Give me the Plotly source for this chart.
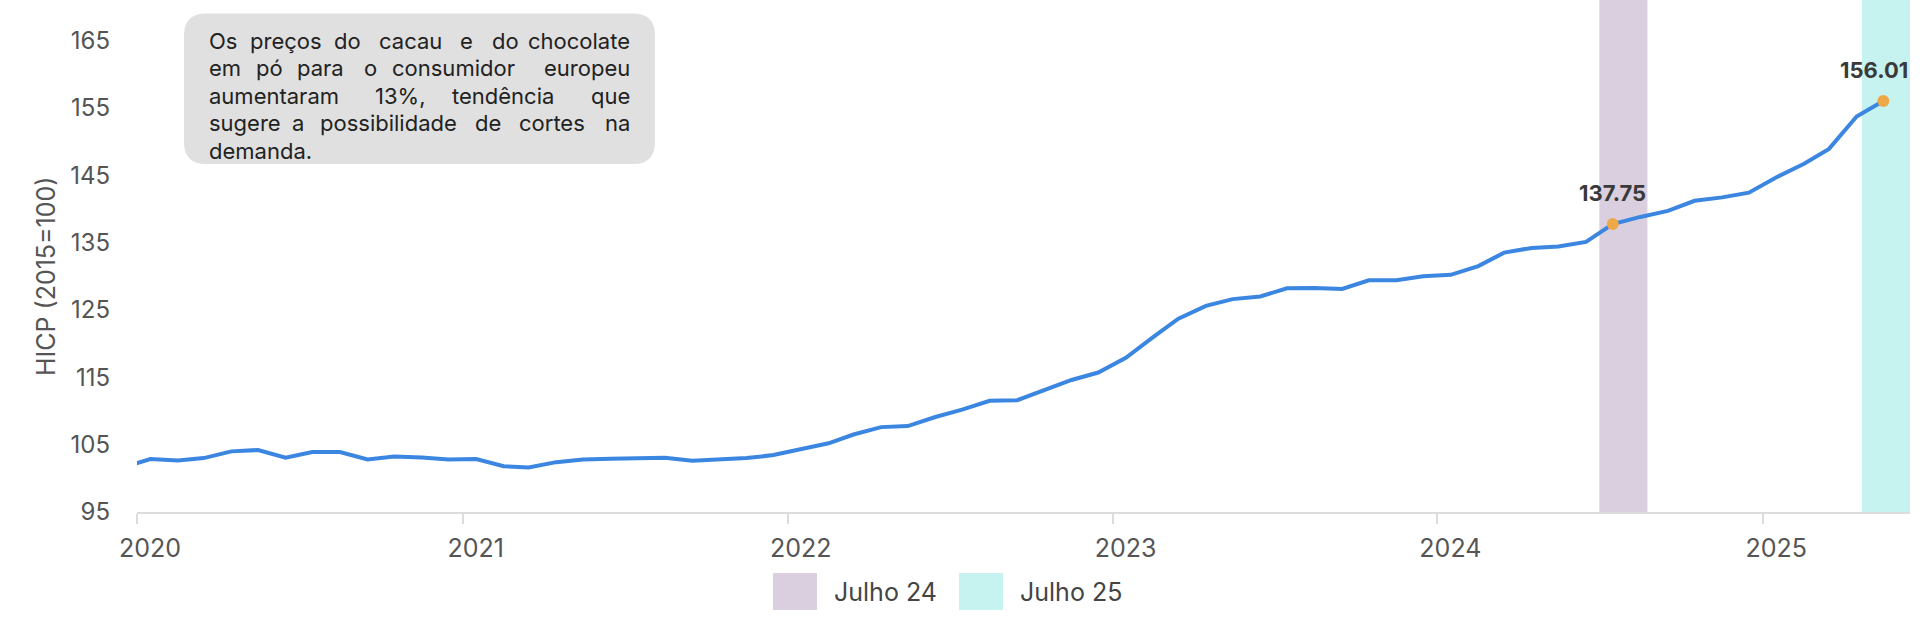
import plotly.graph_objects as go

# ---------------- data ----------------
months = (
    ["2019-12-16"]
    + [f"2020-{m:02d}-16" for m in range(1, 13)]
    + [f"2021-{m:02d}-16" for m in range(1, 13)]
    + [f"2022-{m:02d}-16" for m in range(1, 13)]
    + [f"2023-{m:02d}-16" for m in range(1, 13)]
    + [f"2024-{m:02d}-16" for m in range(1, 13)]
    + [f"2025-{m:02d}-16" for m in range(1, 6)]
)
hicp_2019 = [101.6]
hicp_2020 = [102.85, 102.65, 103.0, 104.0, 104.2, 103.05, 103.9, 103.9, 102.8, 103.25, 103.1, 102.8]
hicp_2021 = [102.85, 101.8, 101.6, 102.4, 102.8, 102.9, 103.0, 103.05, 102.6, 102.8, 103.0, 103.45]
hicp_2022 = [104.4, 105.2, 106.5, 107.6, 107.75, 109.1, 110.2, 111.5, 111.6, 113.0, 114.6, 115.7]
hicp_2023 = [117.9, 121.0, 123.7, 125.6, 126.6, 127.0, 128.2, 128.25, 128.1, 129.4, 129.4, 130.0]
hicp_2024 = [130.2, 131.5, 133.5, 134.2, 134.4, 135.1, 137.75, 138.8, 139.7, 141.2, 141.7, 142.4]
hicp_2025 = [144.7, 146.7, 148.9, 153.7, 156.01]
hicp = hicp_2019 + hicp_2020 + hicp_2021 + hicp_2022 + hicp_2023 + hicp_2024 + hicp_2025

highlight_months = ["2024-07-16", "2025-05-16"]

band_names = ["Julho 24", "Julho 25"]
band_starts = ["2024-07-01", "2025-04-22"]
band_ends = ["2024-08-24", "2025-06-20"]
band_colors = ["#d9cfdf", "#c6f2ef"]

y_ticks = [95, 105, 115, 125, 135, 145, 155, 165]
x_ticks = ["2020-01-01", "2021-01-01", "2022-01-01", "2023-01-01", "2024-01-01", "2025-01-01"]
x_tick_labels = ["2020", "2021", "2022", "2023", "2024", "2025"]

note_lines = [
    "Os preços do cacau e do chocolate",
    "em pó para o consumidor europeu",
    "aumentaram 13%, tendência que",
    "sugere a possibilidade de cortes na",
    "demanda.",
]
y_title = "HICP (2015=100)"

# ---------------- layout helpers (pixel geometry of the page) ----------------
PLOT_L, PLOT_R, PLOT_T, PLOT_B = 137, 1910, 0, 512
PW, PH = PLOT_R - PLOT_L, PLOT_B - PLOT_T


def px(x):
    return (x - PLOT_L) / PW


def py(y):
    return 1 - (y - PLOT_T) / PH


# left edges of words (justified text in the note box); last word of a
# justified line is right-aligned at the text's right edge
TEXT_RIGHT = 631.7
word_left = [
    [206.7, 248.3, 331.7, 376.7, 458.3, 490.0],
    [206.7, 254.0, 295.0, 361.7, 390.0],
    [206.7, 372.7, 450.0],
    [206.7, 290.0, 318.3, 473.3, 516.7],
    [206.7],
]
justified = [True, True, True, True, False]
line_y0, line_dy = 41.0, 27.4

FONT = "Inter"
LINE_COLOR = "#3b86e0"
MARK_COLOR = "#efa848"

# ---------------- figure ----------------
fig = go.Figure()

fig.add_trace(go.Scatter(
    x=months, y=hicp, mode="lines",
    line=dict(color=LINE_COLOR, width=4),
    showlegend=False, hoverinfo="x+y",
))

hl_vals = [hicp[months.index(m)] for m in highlight_months]
fig.add_trace(go.Scatter(
    x=highlight_months, y=hl_vals, mode="markers",
    marker=dict(color=MARK_COLOR, size=12),
    showlegend=False, cliponaxis=False,
))

shapes = []
for s, e, c in zip(band_starts, band_ends, band_colors):
    shapes.append(dict(type="rect", xref="x", yref="paper", x0=s, x1=e, y0=0, y1=1,
                       fillcolor=c, line=dict(width=0), layer="below"))

# note box (rounded rectangle, paper coords)
bx0, bx1, by0, by1 = px(184), px(655), py(164), py(13.5)
rx, ry = 22 / PW, 22 / PH
path = (f"M {bx0+rx},{by0} L {bx1-rx},{by0} Q {bx1},{by0} {bx1},{by0+ry} "
        f"L {bx1},{by1-ry} Q {bx1},{by1} {bx1-rx},{by1} L {bx0+rx},{by1} "
        f"Q {bx0},{by1} {bx0},{by1-ry} L {bx0},{by0+ry} Q {bx0},{by0} {bx0+rx},{by0} Z")
shapes.append(dict(type="path", xref="paper", yref="paper", path=path,
                   fillcolor="#e0e0e0", line=dict(width=0), layer="above"))

# manual legend squares
leg_x = [773, 959]
for lx, c in zip(leg_x, band_colors):
    shapes.append(dict(type="rect", xref="paper", yref="paper", x0=px(lx), x1=px(lx + 44),
                       y0=py(610), y1=py(573), fillcolor=c, line=dict(width=0)))

annotations = []
for li, (line, lefts, just) in enumerate(zip(note_lines, word_left, justified)):
    words = line.split(" ")
    n = len(words)
    for wi, w in enumerate(words):
        if just and wi == n - 1:
            x, anc = TEXT_RIGHT, "right"
        else:
            x, anc = lefts[wi], "left"
        annotations.append(dict(
            xref="paper", yref="paper", x=px(x), y=py(line_y0 + li * line_dy),
            xanchor=anc, yanchor="middle", showarrow=False, text=w,
            font=dict(family=FONT, size=22, color="#222222"),
        ))
for lx, name in zip(leg_x, band_names):
    annotations.append(dict(
        xref="paper", yref="paper", x=px(lx + 59), y=py(592), xanchor="left", yanchor="middle",
        showarrow=False, text=name, font=dict(family=FONT, size=25, color="#444444"),
    ))
annotations.append(dict(
    xref="paper", yref="paper", x=px(46), y=py(277), xanchor="center", yanchor="middle",
    textangle=-90, showarrow=False,
    text=y_title, font=dict(family=FONT, size=25, color="#555555"),
))
for i, (m, v) in enumerate(zip(highlight_months, hl_vals)):
    annotations.append(dict(
        x=m, y=v, showarrow=False, text=f"<b>{v:.2f}</b>", yshift=31,
        xshift=(-9 if i == len(highlight_months) - 1 else 0),
        font=dict(family=FONT, size=22, color="#3a3a3a"),
    ))

fig.update_layout(
    width=1920, height=623,
    margin=dict(l=PLOT_L, r=1920 - PLOT_R, t=PLOT_T, b=623 - PLOT_B),
    plot_bgcolor="white", paper_bgcolor="white",
    shapes=shapes, annotations=annotations,
    showlegend=False,
    font=dict(family=FONT, color="#555555"),
)
fig.update_xaxes(
    type="date", range=["2020-01-01", "2025-06-15"],
    tickvals=x_ticks, ticktext=x_tick_labels,
    showgrid=False, zeroline=False,
    showline=True, linecolor="#dcdcdc", linewidth=2,
    ticks="outside", ticklen=10, tickcolor="#dcdcdc", tickwidth=1.5,
    tickfont=dict(family=FONT, size=25, color="#555555"),
    ticklabelshift=13, ticklabelstandoff=3,
)
fig.update_yaxes(
    range=[95, 171.0], tickvals=y_ticks,
    showgrid=False, zeroline=False, showline=False, ticks="",
    tickfont=dict(family=FONT, size=24, color="#555555"),
    ticklabelstandoff=26,
)

fig.write_html(
    "out.html",
    config={"displayModeBar": False},
    post_script="document.body.style.margin='0';document.body.style.padding='0';",
)
